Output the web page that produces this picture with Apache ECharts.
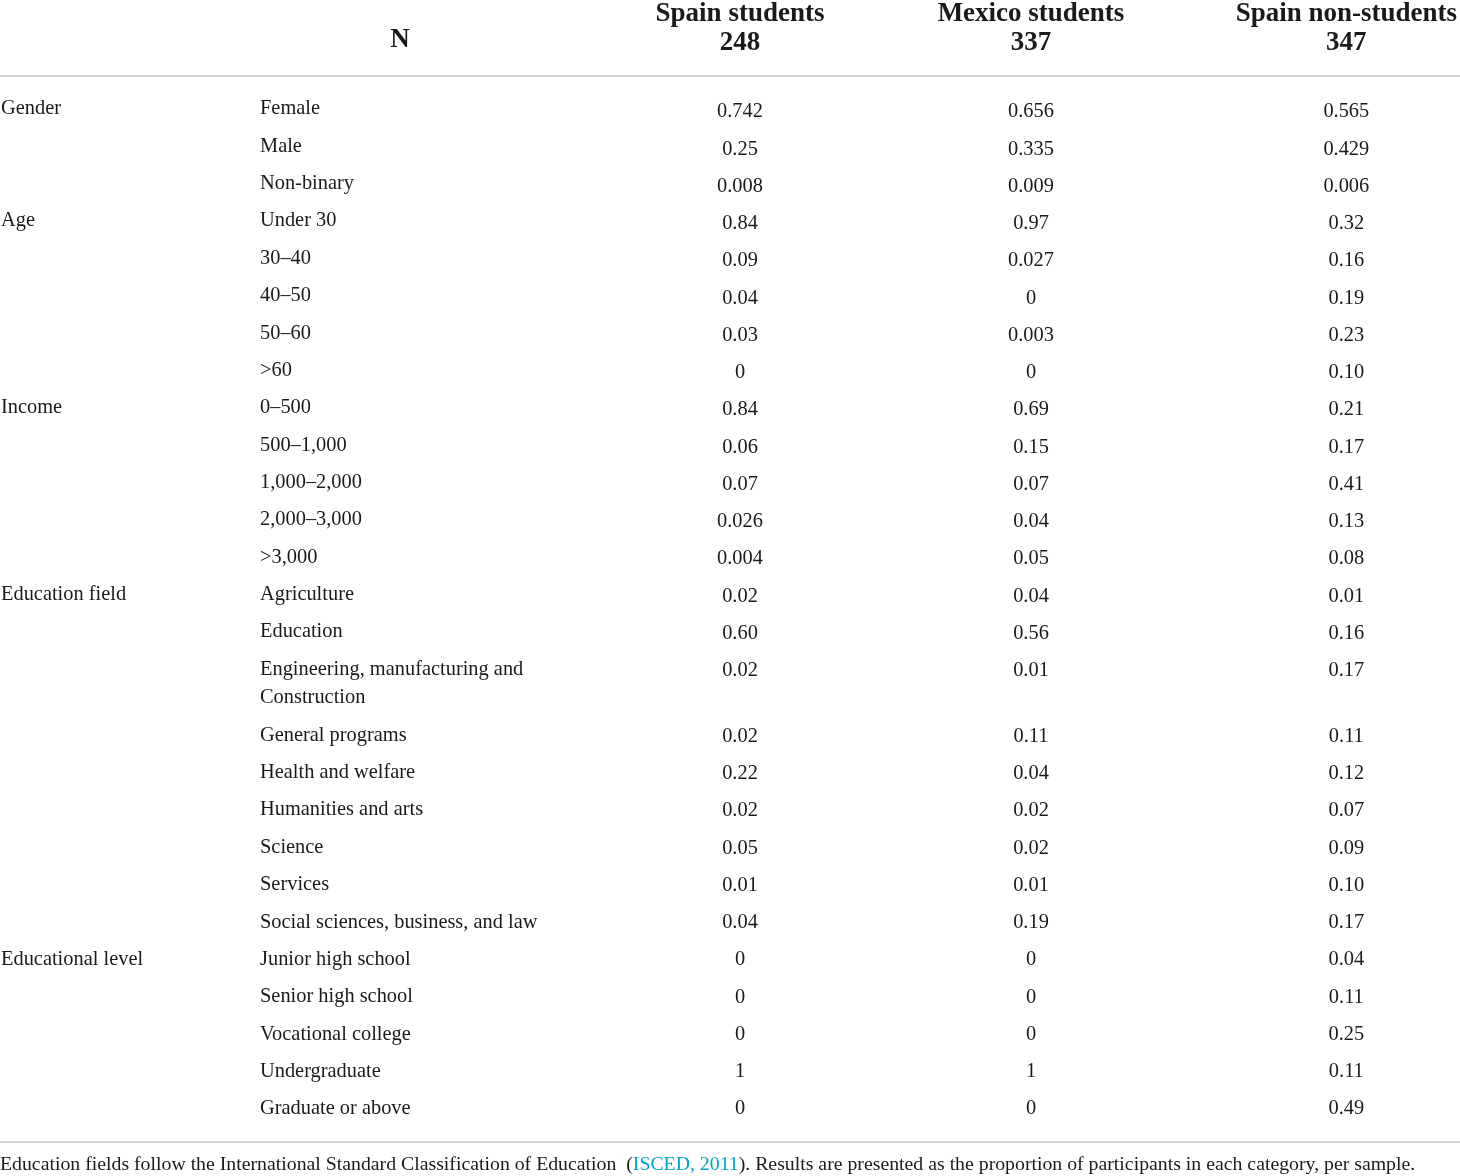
<!DOCTYPE html>
<html>
<head>
<meta charset="utf-8">
<script src="https://cdn.jsdelivr.net/npm/echarts@6/dist/echarts.min.js"></script>
<style>
  html, body { margin: 0; padding: 0; background: #ffffff; }
  #chart { width: 1460px; height: 1176px; }
</style>
</head>
<body>
<div id="chart"></div>
<script>
// ---------- data ----------
const sampleNames = ['Spain students', 'Mexico students', 'Spain non-students'];
const sampleSizes = [248, 337, 347];
const nHeader = 'N';

const groupNames = ['Gender', 'Age', 'Income', 'Education field', 'Educational level'];
const groupSizes = [3, 5, 5, 9, 5];

const rowLabels = [
  'Female', 'Male', 'Non-binary',
  'Under 30', '30–40', '40–50', '50–60', '>60',
  '0–500', '500–1,000', '1,000–2,000', '2,000–3,000', '>3,000',
  'Agriculture', 'Education', 'Engineering, manufacturing and\nConstruction',
  'General programs', 'Health and welfare', 'Humanities and arts', 'Science',
  'Services', 'Social sciences, business, and law',
  'Junior high school', 'Senior high school', 'Vocational college',
  'Undergraduate', 'Graduate or above'
];

const spainStudents = ['0.742', '0.25', '0.008', '0.84', '0.09', '0.04', '0.03', '0',
  '0.84', '0.06', '0.07', '0.026', '0.004', '0.02', '0.60', '0.02', '0.02', '0.22',
  '0.02', '0.05', '0.01', '0.04', '0', '0', '0', '1', '0'];
const mexicoStudents = ['0.656', '0.335', '0.009', '0.97', '0.027', '0', '0.003', '0',
  '0.69', '0.15', '0.07', '0.04', '0.05', '0.04', '0.56', '0.01', '0.11', '0.04',
  '0.02', '0.02', '0.01', '0.19', '0', '0', '0', '1', '0'];
const spainNonStudents = ['0.565', '0.429', '0.006', '0.32', '0.16', '0.19', '0.23', '0.10',
  '0.21', '0.17', '0.41', '0.13', '0.08', '0.01', '0.16', '0.17', '0.11', '0.12',
  '0.07', '0.09', '0.10', '0.17', '0.04', '0.11', '0.25', '0.11', '0.49'];

const footnotePlain1 = 'Education fields follow the International Standard Classification of Education  (';
const footnoteLink = 'ISCED, 2011';
const footnotePlain2 = '). Results are presented as the proportion of participants in each category, per sample.';

// ---------- layout / style ----------
const FONT = '"Liberation Serif", "DejaVu Serif", serif';
const TXT = '#1a1a1a';
const BODY_SIZE = 20.4;
const LINE_H = 28.5;
const ROW_H = 37.36;
const HEAD_SIZE = 27;
const HEAD_LH = 29;
const HEAD_BOTTOM = 55;

// row positions in "row units" (multi-line labels push later rows down)
const rowPos = [];
rowLabels.forEach((lab, i) => {
  if (i === 0) { rowPos.push(0); return; }
  const prevExtra = rowLabels[i - 1].split('\n').length - 1;
  rowPos.push(rowPos[i - 1] + 1 + prevExtra * (LINE_H / ROW_H));
});
const totalUnits = rowPos[rowPos.length - 1];

// group label per row
const rowGroup = [];
groupNames.forEach((g, gi) => {
  for (let k = 0; k < groupSizes[gi]; k++) rowGroup.push(k === 0 ? g : '');
});

const TOP = 109, BOTTOM = 1176 - 1109;

const cellLabel = (align) => ({
  show: true,
  position: 'inside',
  align: align,
  verticalAlign: 'top',
  offset: [0, -LINE_H / 2],
  fontFamily: FONT,
  fontSize: BODY_SIZE,
  lineHeight: LINE_H,
  color: TXT,
  opacity: 1,
  textBorderWidth: 0,
  textBorderColor: 'transparent',
  formatter: (p) => p.data[2]
});

const hiddenY = (gi) => ({
  type: 'value', gridIndex: gi, inverse: true, min: 0, max: totalUnits, show: false
});

const grids = [
  { left: 1, top: TOP, width: 240, bottom: BOTTOM },      // 0 group
  { left: 260, top: TOP, width: 280, bottom: BOTTOM },    // 1 subcategory
  { left: 640, top: TOP, width: 200, bottom: BOTTOM },    // 2 Spain students
  { left: 931, top: TOP, width: 200, bottom: BOTTOM },    // 3 Mexico students
  { left: 1248, top: TOP, width: 200, bottom: BOTTOM },   // 4 Spain non-students
  { left: 0, right: 0, top: 76, bottom: 1176 - 1142 }     // 5 rules
];

const headerLabel = {
  show: true,
  fontFamily: FONT,
  fontSize: HEAD_SIZE,
  fontWeight: 'bold',
  lineHeight: HEAD_LH,
  color: TXT,
  margin: TOP - HEAD_BOTTOM,
  verticalAlign: 'bottom'
};

const xAxes = [
  { type: 'value', gridIndex: 0, min: 0, max: 1, show: false },
  {
    type: 'value', gridIndex: 1, min: 0, max: 1, position: 'top',
    name: nHeader, nameLocation: 'middle', nameGap: TOP - HEAD_BOTTOM,
    nameTextStyle: { fontFamily: FONT, fontSize: HEAD_SIZE, fontWeight: 'bold',
      color: TXT, lineHeight: HEAD_LH, verticalAlign: 'bottom' },
    axisLine: { show: false }, axisTick: { show: false },
    axisLabel: { show: false }, splitLine: { show: false }
  }
];
sampleNames.forEach((name, i) => {
  xAxes.push({
    type: 'category', gridIndex: 2 + i, position: 'top',
    data: [name + '\n' + sampleSizes[i]],
    axisLine: { show: false }, axisTick: { show: false },
    axisLabel: headerLabel, splitLine: { show: false }
  });
});
// horizontal rules
['top', 'bottom'].forEach((pos) => {
  xAxes.push({
    type: 'value', gridIndex: 5, min: 0, max: 1, position: pos,
    axisLine: { show: true, onZero: false, lineStyle: { color: '#c8c8c8', width: 1.5 } },
    axisTick: { show: false }, axisLabel: { show: false }, splitLine: { show: false }
  });
});

const yAxes = [0, 1, 2, 3, 4].map(hiddenY);
yAxes.push({ type: 'value', gridIndex: 5, min: 0, max: 1, show: false });

const baseScatter = {
  type: 'scatter', symbolSize: 1,
  itemStyle: { color: 'rgba(0,0,0,0)', opacity: 1 },
  silent: true, animation: false
};

const series = [
  Object.assign({}, baseScatter, {
    name: 'group', xAxisIndex: 0, yAxisIndex: 0,
    data: rowGroup.map((g, i) => [0, rowPos[i], g]).filter(d => d[2] !== ''),
    label: cellLabel('left')
  }),
  Object.assign({}, baseScatter, {
    name: 'subcategory', xAxisIndex: 1, yAxisIndex: 1,
    data: rowLabels.map((l, i) => [0, rowPos[i], l]),
    label: cellLabel('left')
  })
];
[spainStudents, mexicoStudents, spainNonStudents].forEach((arr, si) => {
  series.push(Object.assign({}, baseScatter, {
    name: sampleNames[si], xAxisIndex: 2 + si, yAxisIndex: 2 + si,
    data: arr.map((v, i) => [0, rowPos[i], v]),
    label: cellLabel('center')
  }));
});

const chart = echarts.init(document.getElementById('chart'), null, { renderer: 'canvas' });
chart.setOption({
  backgroundColor: '#ffffff',
  animation: false,
  title: {
    left: 0, top: 1155, padding: 0,
    text: footnotePlain1 + '{link|' + footnoteLink + '}' + footnotePlain2,
    textStyle: {
      fontFamily: FONT, fontSize: 19.8, fontWeight: 'normal', color: TXT,
      rich: { link: { fontFamily: FONT, fontSize: 19.8, color: '#00a6c6' } }
    }
  },
  grid: grids,
  xAxis: xAxes,
  yAxis: yAxes,
  series: series
});
</script>
</body>
</html>
